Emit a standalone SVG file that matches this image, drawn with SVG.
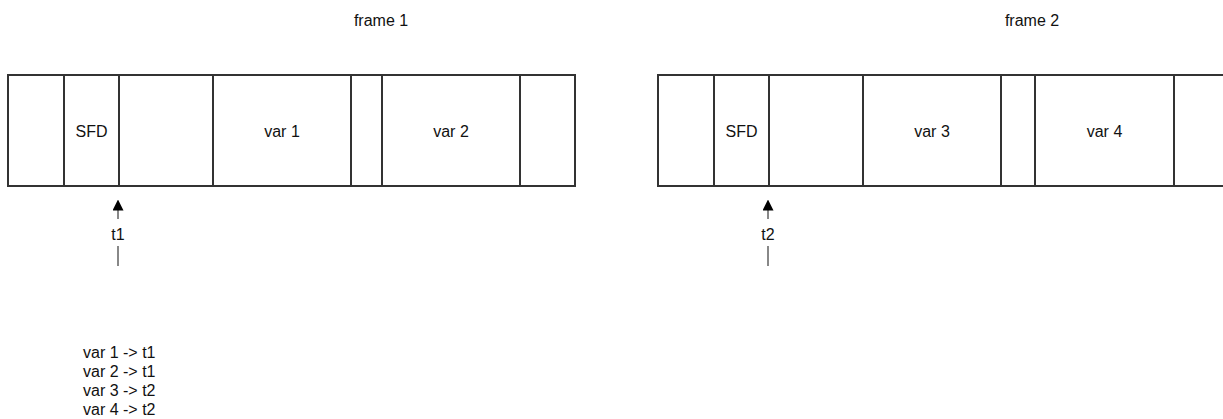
<svg xmlns="http://www.w3.org/2000/svg" width="1223" height="419" viewBox="0 0 1223 419">
<style>
.cell{fill:#fff;stroke:#333;stroke-width:2}
.t{font-family:"Liberation Sans",Arial,sans-serif;font-size:16px;fill:#111}
.m{text-anchor:middle}
.edge{stroke:#888;stroke-width:2;fill:none}
</style>
<defs>
<marker id="ah" markerWidth="11" markerHeight="11" refX="5" refY="5.5" orient="auto" markerUnits="userSpaceOnUse" viewBox="0 0 11 11">
<path d="M0,0 L11,5.5 L0,11 Z" fill="#000"/>
</marker>
</defs>
<rect width="1223" height="419" fill="#fff"/>
<text class="t m" x="381" y="26">frame 1</text>
<text class="t m" x="1032" y="26">frame 2</text>
<g id="frame1">
<rect class="cell" x="8" y="75" width="56" height="111"/>
<g id="sfd1"><rect class="cell" x="64" y="75" width="55" height="111"/><text class="t m" x="91.5" y="136.5">SFD</text></g>
<rect class="cell" x="119" y="75" width="94" height="111"/>
<g id="var1"><rect class="cell" x="213" y="75" width="138" height="111"/><text class="t m" x="282" y="136.5">var 1</text></g>
<rect class="cell" x="351" y="75" width="31" height="111"/>
<g id="var2"><rect class="cell" x="382" y="75" width="138" height="111"/><text class="t m" x="451" y="136.5">var 2</text></g>
<rect class="cell" x="520" y="75" width="55" height="111"/>
</g>
<g id="frame2">
<rect class="cell" x="658" y="75" width="56" height="111"/>
<g id="sfd2"><rect class="cell" x="714" y="75" width="55" height="111"/><text class="t m" x="741.5" y="136.5">SFD</text></g>
<rect class="cell" x="769" y="75" width="94" height="111"/>
<g id="var3"><rect class="cell" x="863" y="75" width="138" height="111"/><text class="t m" x="932" y="136.5">var 3</text></g>
<rect class="cell" x="1001" y="75" width="34" height="111"/>
<g id="var4"><rect class="cell" x="1035" y="75" width="139" height="111"/><text class="t m" x="1104.5" y="136.5">var 4</text></g>
<rect class="cell" x="1174" y="75" width="60" height="111"/>
</g>
<g id="connectors">
<line class="edge" x1="118" y1="266" x2="118" y2="246"/>
<line class="edge" x1="118" y1="219" x2="118" y2="205.5" marker-end="url(#ah)"/>
<text class="t m" x="118" y="240">t1</text>
<line class="edge" x1="768" y1="266" x2="768" y2="246"/>
<line class="edge" x1="768" y1="219" x2="768" y2="205.5" marker-end="url(#ah)"/>
<text class="t m" x="768" y="240">t2</text>
</g>
<g id="legend">
<text class="t" x="83" y="358">var 1 -&gt; t1</text>
<text class="t" x="83" y="377">var 2 -&gt; t1</text>
<text class="t" x="83" y="396">var 3 -&gt; t2</text>
<text class="t" x="83" y="415">var 4 -&gt; t2</text>
</g>
</svg>
